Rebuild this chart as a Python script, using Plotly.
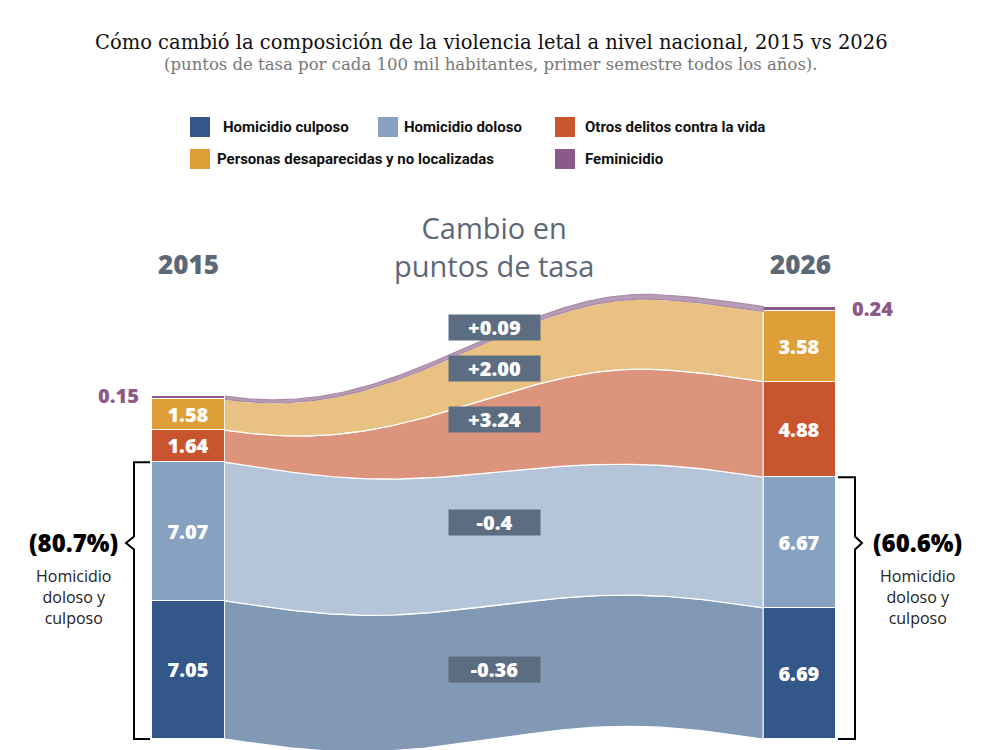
import numpy as np
import plotly.graph_objects as go

# datos (tasa por cada 100 mil habitantes, primer semestre)
years = [2015, 2026]
series = ["Homicidio culposo", "Homicidio doloso", "Otros delitos contra la vida",
          "Personas desaparecidas y no localizadas", "Feminicidio"]
rate_2015 = [7.05, 7.07, 1.64, 1.58, 0.15]
rate_2026 = [6.69, 6.67, 4.88, 3.58, 0.24]
change_labels = ["-0.36", "-0.4", "+3.24", "+2.00", "+0.09"]

bar_colors = ["#34578a", "#86a2c0", "#c8552e", "#df9f38", "#8c5a88"]
flow_colors = ["#8199b5", "#b4c5d9", "#dc947c", "#e9c283", "#b89cb7"]

W, H = 1002, 750
OFF = 8               # margen de la pagina
BAR_W = 1.31          # ancho de barra en años
PX_YR = 55.55
X0 = 2011.607 + OFF / PX_YR
Y_PX = 19.6           # px por punto de tasa
Y_BOTTOM = 739

x_range = [X0, X0 + W / PX_YR]
y_range = [(Y_BOTTOM - OFF - H) / Y_PX, (Y_BOTTOM - OFF) / Y_PX]

NUM_FONT = "Open Sans"
GRAY = "#5d6877"


def px(x):
    return (x - OFF) / W


def py(y):
    return 1 - (y - OFF) / H


def x_of(p):
    return X0 + (p - OFF) / PX_YR


def note(x, y, text, font, **kw):
    d = dict(x=px(x), y=py(y), xref="paper", yref="paper", text=text, showarrow=False,
             xanchor="center", yanchor="middle", font=font)
    d.update(kw)
    return d


def boundary(left, right, t, amp=0.65):
    u = np.clip(t / 0.8, 0, 1)
    s = u * u * (3 - 2 * u)
    return left + (right - left) * s - amp * np.sin(2 * np.pi * t)


fig = go.Figure()

# bandas de flujo entre barras
cum15 = np.concatenate([[0], np.cumsum(rate_2015)])
cum26 = np.concatenate([[0], np.cumsum(rate_2026)])
t = np.linspace(0, 1, 200)
xa = years[0] + BAR_W / 2
xb = years[1] - BAR_W / 2
xs = xa + (xb - xa) * t
for i, name in enumerate(series):
    lo = boundary(cum15[i], cum26[i], t)
    hi = boundary(cum15[i + 1], cum26[i + 1], t)
    last = i == len(series) - 1
    fig.add_trace(go.Scatter(
        x=np.concatenate([xs, xs[::-1]]),
        y=np.concatenate([hi, lo[::-1]]),
        fill="toself", fillcolor=flow_colors[i], mode="lines",
        line=dict(color="#a88aa8" if last else "white", width=1.2),
        hoverinfo="skip", showlegend=False))

# barras apiladas
for i, name in enumerate(series):
    vals = [rate_2015[i], rate_2026[i]]
    fig.add_trace(go.Bar(
        x=years, y=vals, width=BAR_W, name=name,
        marker=dict(color=bar_colors[i], line=dict(color="white", width=1)),
        text=None if i == len(series) - 1 else [f"{v:.2f}" for v in vals],
        textposition="inside", insidetextanchor="middle", constraintext="none",
        textfont=dict(family=NUM_FONT, size=20, color="white", weight=800),
        showlegend=False))

annotations = []
purple = dict(family=NUM_FONT, size=20, color="#8c5a88", weight=800)
annotations.append(note(118, 395, f"{rate_2015[-1]:.2f}", purple))
annotations.append(note(872, 308, f"{rate_2026[-1]:.2f}", purple))

# cajas de cambio
label_y = [3.57, 11.07, 16.28, 18.88, 20.99]
for lab, yy in zip(change_labels, label_y):
    annotations.append(dict(x=(years[0] + years[1]) / 2, y=yy, xref="x", yref="y",
                            xanchor="center", yanchor="middle",
                            text=lab, showarrow=False, width=87, height=21,
                            bgcolor="#5c6d81", borderpad=2,
                            font=dict(family=NUM_FONT, size=20, color="white", weight=800)))

# encabezados
annotations += [
    note(491, 43, "Cómo cambió la composición de la violencia letal a nivel nacional, 2015 vs 2026",
         dict(family="DejaVu Serif", size=19.5, color="#111")),
    note(491, 65, "(puntos de tasa por cada 100 mil habitantes, primer semestre todos los años).",
         dict(family="DejaVu Serif", size=16.5, color="#777")),
    note(188, 264, str(years[0]), dict(family=NUM_FONT, size=26, color=GRAY, weight=800)),
    note(800, 264, str(years[1]), dict(family=NUM_FONT, size=26, color=GRAY, weight=800)),
    note(494, 246, "Cambio en<br>puntos de tasa", dict(family=NUM_FONT, size=29, color=GRAY)),
]

# leyenda manual
legend_pos = [(190, 127, 221), (378, 127, 402), (555, 127, 583), (190, 159, 215), (555, 159, 583)]
shapes = []
for i, (sx, sy, tx) in enumerate(legend_pos):
    shapes.append(dict(type="rect", xref="paper", yref="paper",
                       x0=px(sx), x1=px(sx + 20), y0=py(sy + 10), y1=py(sy - 10),
                       fillcolor=bar_colors[i], line=dict(width=0)))
    annotations.append(note(tx, sy, series[i],
                            dict(family="Roboto", size=15, color="#111", weight="bold"),
                            xanchor="left"))

# llaves de homicidio doloso + culposo
hom15 = rate_2015[0] + rate_2015[1]
hom26 = rate_2026[0] + rate_2026[1]
tip_y = 10.0
notch = 0.33

lx_t, lx_v, lx_p = x_of(150), x_of(134), x_of(126)
shapes.append(dict(type="path", xref="x", yref="y", line=dict(color="black", width=2),
                   path=f"M{lx_t},{hom15} L{lx_v},{hom15} L{lx_v},{tip_y + notch} L{lx_p},{tip_y} "
                        f"L{lx_v},{tip_y - notch} L{lx_v},0 L{lx_t},0"))
rx_t, rx_v, rx_p = x_of(838), x_of(855), x_of(862)
shapes.append(dict(type="path", xref="x", yref="y", line=dict(color="black", width=2),
                   path=f"M{rx_t},{hom26} L{rx_v},{hom26} L{rx_v},{tip_y + notch} L{rx_p},{tip_y} "
                        f"L{rx_v},{tip_y - notch} L{rx_v},0 L{rx_t},0"))

share15 = 100 * hom15 / sum(rate_2015)
share26 = 100 * hom26 / sum(rate_2026)
for cx, share in [(73, share15), (917, share26)]:
    annotations.append(note(cx, 542, f"({share:.1f}%)",
                            dict(family=NUM_FONT, size=24, color="black", weight=800)))
    annotations.append(note(cx, 597, "Homicidio<br>doloso y<br>culposo",
                            dict(family=NUM_FONT, size=16, color="#222")))

fig.update_layout(
    width=W, height=H, margin=dict(l=0, r=0, t=0, b=0),
    paper_bgcolor="white", plot_bgcolor="white",
    barmode="stack", bargap=0,
    xaxis=dict(range=x_range, visible=False, fixedrange=True),
    yaxis=dict(range=y_range, visible=False, fixedrange=True),
    annotations=annotations, shapes=shapes,
    showlegend=False,
)

fig.write_html("out.html")
